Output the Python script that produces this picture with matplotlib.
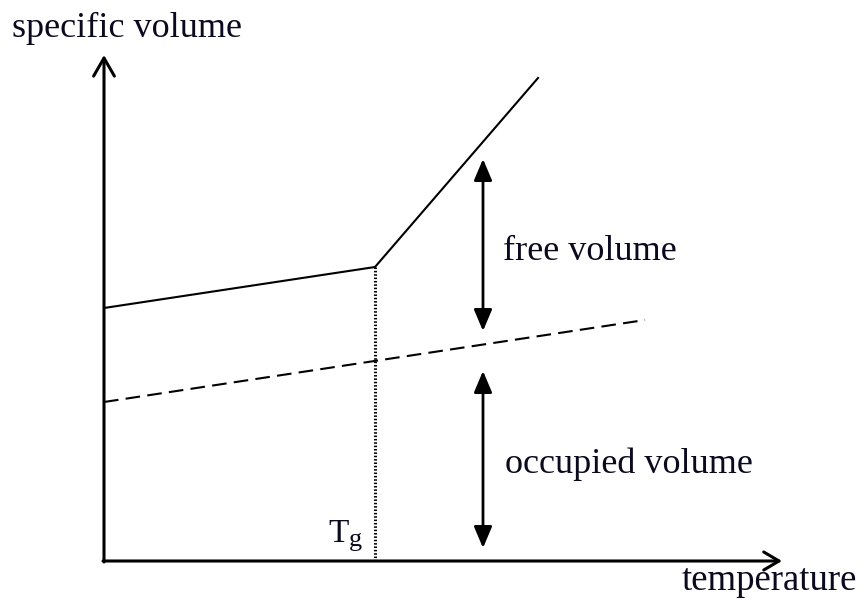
import matplotlib
matplotlib.use("Agg")
import matplotlib.pyplot as plt

# ---- data (pixel-like diagram coordinates, y grows downward) ----
origin = (104, 561)
y_axis_top = 55
x_axis_right = 782

liquid_x = [104, 375, 538]          # solid line: glass branch then melt branch
liquid_y = [308, 267, 78]
occupied_x = [104, 645]             # dashed occupied-volume line
occupied_y = [402, 320]
tg_x = 375                          # glass transition temperature
tg_top = 267

free_arrow = (483, 159, 331)        # x, y_top, y_bottom
occ_arrow = (483, 371, 548)

labels = {
    "specific volume": (12, 37, 26),
    "free volume": (503, 260, 26),
    "occupied volume": (505, 473, 26),
    "temperature": (682, 590, 26.5),
}

fig = plt.figure(figsize=(8.68, 6.0), dpi=100)
ax = fig.add_axes([0, 0, 1, 1])
ax.set_xlim(0, 868)
ax.set_ylim(600, 0)
ax.axis("off")

k = "black"
# axes with open arrowheads
ax.annotate("", xy=(origin[0], y_axis_top), xytext=(origin[0], origin[1] + 1),
            arrowprops=dict(arrowstyle="->,head_length=1.3,head_width=0.75",
                            lw=2.2, color=k, shrinkA=0, shrinkB=0))
ax.annotate("", xy=(x_axis_right, origin[1]), xytext=(origin[0] - 1, origin[1]),
            arrowprops=dict(arrowstyle="->,head_length=1.1,head_width=0.65",
                            lw=2.2, color=k, shrinkA=0, shrinkB=0))

# curves
ax.plot(liquid_x, liquid_y, color=k, lw=1.5, solid_joinstyle="miter")
ax.plot(occupied_x, occupied_y, color=k, lw=1.5, dashes=(7, 3.5))
ax.plot([tg_x, tg_x], [tg_top, origin[1]], color=k, lw=2.2, ls=(0, (0.5, 0.6)))

# double arrows
for xa, y0, y1 in (free_arrow, occ_arrow):
    ax.annotate("", xy=(xa, y0), xytext=(xa, y1),
                arrowprops=dict(arrowstyle="<|-|>,head_length=1.3,head_width=0.55",
                                lw=2.0, color=k, shrinkA=0, shrinkB=0))

font = "Liberation Serif"
for txt, (x, y, fs) in labels.items():
    ax.text(x, y, txt, fontsize=fs, family=font, ha="left", va="baseline",
            color="#0a0a1e")

ax.text(328, 542, "T", fontsize=24, family=font, ha="left", va="baseline", color="#0a0a1e")
ax.text(349, 546, "g", fontsize=19, family=font, ha="left", va="baseline", color="#0a0a1e")

fig.savefig("out.png", dpi=100, facecolor="white")
